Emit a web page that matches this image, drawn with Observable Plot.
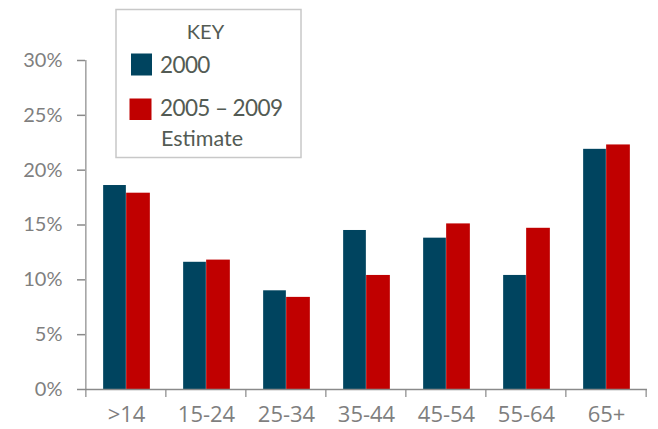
<!DOCTYPE html>
<html>
<head>
<meta charset="utf-8">
<script src="https://cdn.jsdelivr.net/npm/d3@7"></script>
<script src="https://cdn.jsdelivr.net/npm/@observablehq/plot@0.6"></script>
<style>
  html, body { margin: 0; padding: 0; background: #ffffff; }
  #wrap { position: relative; width: 658px; height: 429px; }
  #legend { position: absolute; left: 0; top: 0; pointer-events: none; }
</style>
</head>
<body>
<div id="wrap"></div>
<script>
const categories = [">14", "15-24", "25-34", "35-44", "45-54", "55-64", "65+"];
const series = ["2000", "2005 – 2009"];
const values2000 = [18.6, 11.6, 9.0, 14.5, 13.8, 10.4, 21.9];
const values2005 = [17.9, 11.8, 8.4, 10.4, 15.1, 14.7, 22.3];
const yTicks = [0, 5, 10, 15, 20, 25, 30];
const legendTitle = "KEY";
const legendLabels = ["2000", "2005 – 2009", "Estimate"];
const colors = ["#00445F", "#C00000"];

const W = 658, H = 429, mL = 85, mR = 11, mT = 60, mB = 40;
const bw = (W - mL - mR) / categories.length;
const plotH = H - mT - mB;

const d2000 = categories.map((c, i) => ({category: c, value: values2000[i]}));
const d2005 = categories.map((c, i) => ({category: c, value: values2005[i]}));

const axisColor = "#8a8a8a";

const chart = Plot.plot({
  width: W, height: H,
  marginLeft: mL, marginRight: mR, marginTop: mT, marginBottom: mB,
  style: {background: "#ffffff", fontFamily: "Lato, sans-serif"},
  x: {domain: categories, padding: 0, axis: null, label: null},
  y: {domain: [0, 30], axis: null, label: null},
  marks: [
    Plot.barY(d2000, {x: "category", y: "value", fill: colors[0], insetLeft: bw / 2 - 23, insetRight: bw / 2}),
    Plot.barY(d2005, {x: "category", y: "value", fill: colors[1], insetLeft: bw / 2, insetRight: bw / 2 - 24}),
    // x axis line
    Plot.ruleY([0], {stroke: axisColor, strokeWidth: 1.5}),
    // y axis line (left edge of first band), extending down as a tick
    Plot.rect([categories[0]], {x: d => d, fill: axisColor, insetLeft: -0.75, insetRight: bw - 0.75, insetTop: 0, insetBottom: -8}),
    // boundary ticks below the x axis
    Plot.rect(categories.slice(1), {x: d => d, fill: axisColor, insetLeft: -0.75, insetRight: bw - 0.75, insetTop: plotH, insetBottom: -8}),
    Plot.rect([categories[categories.length - 1]], {x: d => d, fill: axisColor, insetLeft: bw - 0.75, insetRight: -0.75, insetTop: plotH, insetBottom: -8}),
    Plot.axisY({ticks: yTicks, tickFormat: d => d + "%", label: null, tickSize: 8, tickPadding: 15, stroke: axisColor, strokeWidth: 1.5, fill: "#7f7f7f", fontSize: 20, fontFamily: "Lato, sans-serif", style: {letterSpacing: "0.6px"}}),
    Plot.axisX({tickSize: 0, tickPadding: 17, label: null, fill: "#7f7f7f", fontSize: 22, fontFamily: "'Open Sans', sans-serif", style: {letterSpacing: "1px"}})
  ]
});
document.getElementById("wrap").appendChild(chart);

// Legend overlay
const ns = "http://www.w3.org/2000/svg";
const lg = document.createElementNS(ns, "svg");
lg.setAttribute("id", "legend");
lg.setAttribute("width", W);
lg.setAttribute("height", H);
const txtColor = "#535b54";
function el(tag, attrs, text) {
  const e = document.createElementNS(ns, tag);
  for (const k in attrs) e.setAttribute(k, attrs[k]);
  if (text != null) e.textContent = text;
  lg.appendChild(e);
  return e;
}
el("rect", {x: 116, y: 9.5, width: 185, height: 148, fill: "#ffffff", stroke: "#c8c8c8", "stroke-width": 1.5});
el("text", {x: 205.5, y: 39, "text-anchor": "middle", "font-family": "Lato, sans-serif", "font-size": 20, fill: txtColor}, legendTitle);
el("rect", {x: 131, y: 53.5, width: 21, height: 22, fill: colors[0]});
el("rect", {x: 129.5, y: 98.5, width: 22, height: 21.5, fill: colors[1]});
el("text", {x: 160, y: 73, "font-family": "Lato, sans-serif", "font-size": 22.5, "letter-spacing": "-0.6", fill: txtColor}, legendLabels[0]);
el("text", {x: 160, y: 115.5, "font-family": "Lato, sans-serif", "font-size": 22.5, "letter-spacing": "-0.6", fill: txtColor}, legendLabels[1]);
el("text", {x: 161, y: 146, "font-family": "Lato, sans-serif", "font-size": 21.5, fill: txtColor}, legendLabels[2]);
document.getElementById("wrap").appendChild(lg);
</script>
</body>
</html>
